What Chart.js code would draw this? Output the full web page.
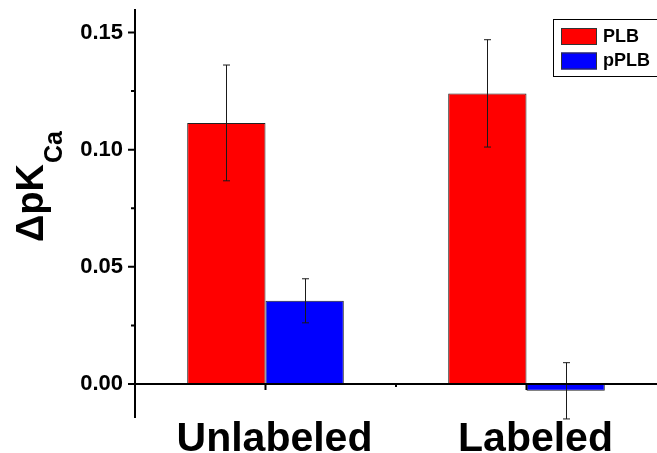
<!DOCTYPE html>
<html>
<head>
<meta charset="utf-8">
<script src="https://cdn.jsdelivr.net/npm/chart.js@4.4.1/dist/chart.umd.min.js"></script>
<style>
  html, body { margin: 0; padding: 0; background: #ffffff; }
  #wrap { width: 657px; height: 453px; }
</style>
</head>
<body>
<div id="wrap"><canvas id="c" width="657" height="453"></canvas></div>
<script>
// Groups on the x axis
const categories = ['Unlabeled', 'Labeled'];
// Series names
const seriesNames = ['PLB', 'pPLB'];
// Mean shift in pKCa and its error for each series
const plbValues = [0.1114, 0.1240];
const plbErrors = [0.0247, 0.0229];
const pplbValues = [0.0355, -0.0029];
const pplbErrors = [0.0094, 0.0120];
// Axis ticks
const yTickValues = [0, 0.05, 0.10, 0.15];
const yMinorTickValues = [0.025, 0.075, 0.125];
const xMinorTickValues = [0.5];

const FONT = '"Liberation Sans", Arial, sans-serif';
const errors = [plbErrors, pplbErrors];

// Draws axis lines, tick marks, error bars, the boxed legend and the y title
const decorations = {
  id: 'decorations',
  afterDatasetsDraw(chart) {
    const ctx = chart.ctx;
    const xs = chart.scales.x, ys = chart.scales.y;
    const area = chart.chartArea;
    const y0 = ys.getPixelForValue(0);
    ctx.save();

    // error bars
    ctx.strokeStyle = '#1a1a1a';
    ctx.lineWidth = 1;
    chart.data.datasets.forEach((ds, di) => {
      const meta = chart.getDatasetMeta(di);
      meta.data.forEach((bar, i) => {
        const v = ds.data[i], e = errors[di][i];
        const x = Math.round(bar.x) + 0.5;
        const top = ys.getPixelForValue(v + e);
        const bot = ys.getPixelForValue(v - e);
        ctx.beginPath();
        ctx.moveTo(x, top); ctx.lineTo(x, bot);
        ctx.moveTo(x - 3.5, top); ctx.lineTo(x + 3.5, top);
        ctx.moveTo(x - 3.5, bot); ctx.lineTo(x + 3.5, bot);
        ctx.stroke();
      });
    });

    // axes
    ctx.strokeStyle = '#000';
    ctx.lineWidth = 2;
    ctx.beginPath();
    ctx.moveTo(area.left, area.top); ctx.lineTo(area.left, area.bottom);
    ctx.moveTo(area.left, y0); ctx.lineTo(area.right, y0);
    yTickValues.forEach(v => {
      const p = ys.getPixelForValue(v);
      ctx.moveTo(area.left - 7, p); ctx.lineTo(area.left, p);
    });
    yMinorTickValues.forEach(v => {
      const p = ys.getPixelForValue(v);
      ctx.moveTo(area.left - 4, p); ctx.lineTo(area.left, p);
    });
    categories.forEach((c, i) => {
      const p = xs.getPixelForValue(i);
      ctx.moveTo(p, y0); ctx.lineTo(p, y0 + 6);
    });
    xMinorTickValues.forEach(v => {
      const p = xs.getPixelForValue(v);
      ctx.moveTo(p, y0); ctx.lineTo(p, y0 + 3);
    });
    ctx.stroke();
    ctx.restore();
  },
  afterDraw(chart) {
    const ctx = chart.ctx;
    ctx.save();

    // legend box
    ctx.strokeStyle = '#000';
    ctx.lineWidth = 1;
    ctx.strokeRect(553.5, 19.5, 104, 57);
    ctx.textBaseline = 'middle';
    ctx.textAlign = 'left';
    ctx.font = 'bold 18px ' + FONT;
    chart.data.datasets.forEach((ds, i) => {
      const top = 28 + i * 24.5;
      ctx.fillStyle = ds.backgroundColor;
      ctx.fillRect(561, top, 36, 17);
      ctx.strokeStyle = '#333';
      ctx.strokeRect(561.5, top + 0.5, 35, 16);
      ctx.fillStyle = '#000';
      ctx.fillText(ds.label, 603, top + 9);
    });

    // y axis title with subscript
    ctx.translate(43, 242);
    ctx.rotate(-Math.PI / 2);
    ctx.textBaseline = 'alphabetic';
    ctx.fillStyle = '#000';
    ctx.font = 'bold 38px ' + FONT;
    const main = 'ΔpK';
    ctx.fillText(main, 0, 0);
    const w = ctx.measureText(main).width;
    ctx.font = 'bold 25px ' + FONT;
    ctx.fillText('Ca', w + 1, 19);
    ctx.restore();
  }
};

new Chart(document.getElementById('c'), {
  type: 'bar',
  data: {
    labels: categories,
    datasets: [
      { label: seriesNames[0], data: plbValues, backgroundColor: '#ff0000',
        borderColor: '#222', borderWidth: 1 },
      { label: seriesNames[1], data: pplbValues, backgroundColor: '#0000ff',
        borderColor: '#222', borderWidth: 1 }
    ]
  },
  options: {
    responsive: false,
    devicePixelRatio: 1,
    animation: false,
    layout: { autoPadding: false, padding: { top: 9, left: 0, right: -3, bottom: 0 } },
    datasets: { bar: { categoryPercentage: 0.6, barPercentage: 1.0 } },
    plugins: { legend: { display: false }, tooltip: { enabled: false } },
    scales: {
      x: {
        type: 'category',
        offset: true,
        grid: { display: false, drawTicks: false },
        border: { display: false },
        ticks: {
          color: '#000',
          font: { family: FONT, size: 41, weight: 'bold' },
          padding: -3,
          labelOffset: 9,
          maxRotation: 0
        },
        afterFit(s) { s.height = 35; s.paddingLeft = 0; s.paddingRight = 0; }
      },
      y: {
        min: -0.0145,
        max: 0.16,
        grid: { display: false, drawTicks: false },
        border: { display: false },
        afterBuildTicks(s) { s.ticks = yTickValues.map(v => ({ value: v })); },
        ticks: {
          color: '#000',
          font: { family: FONT, size: 22, weight: 'bold' },
          padding: 12,
          callback: v => Number(v).toFixed(2)
        },
        afterFit(s) { s.width = 135; s.paddingTop = 0; s.paddingBottom = 0; }
      }
    }
  },
  plugins: [decorations]
});
</script>
</body>
</html>
